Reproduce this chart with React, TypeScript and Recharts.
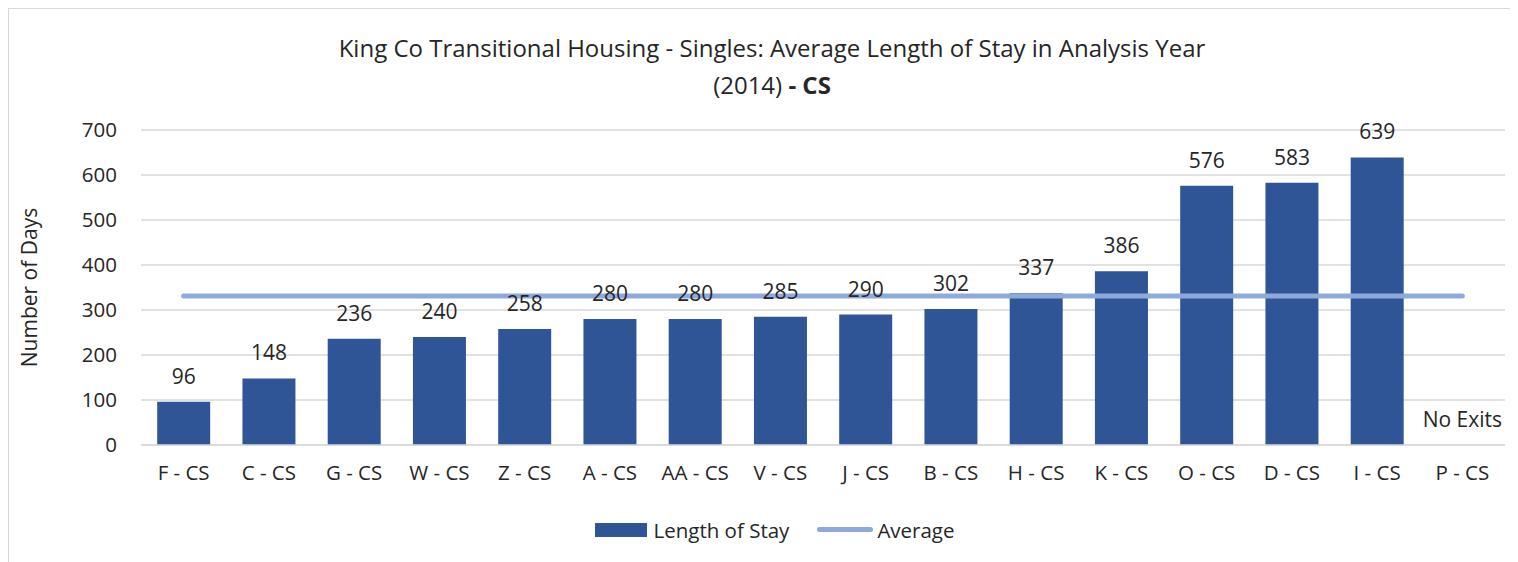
import React from 'react';
import { ComposedChart, Bar, Line, XAxis, YAxis, CartesianGrid, LabelList, Legend, Label, ReferenceDot } from 'recharts';

const categories = ['F - CS', 'C - CS', 'G - CS', 'W - CS', 'Z - CS', 'A - CS', 'AA - CS', 'V - CS', 'J - CS', 'B - CS', 'H - CS', 'K - CS', 'O - CS', 'D - CS', 'I - CS', 'P - CS'];
const lengthOfStay = [96, 148, 236, 240, 258, 280, 280, 285, 290, 302, 337, 386, 576, 583, 639, null];
const average = [331, 331, 331, 331, 331, 331, 331, 331, 331, 331, 331, 331, 331, 331, 331, 331];
const yTicks = [0, 100, 200, 300, 400, 500, 600, 700];
const noExitCategory = 'P - CS';
const noExitText = 'No Exits';

const data = categories.map((c, i) => ({ name: c, los: lengthOfStay[i], avg: average[i] }));

const FONT = '"Open Sans", "Noto Sans", sans-serif';
const TEXT = '#262626';

const renderLabel = (props: any) => {
  const { x, y, width, value } = props;
  if (value === null || value === undefined) return null;
  return (
    <text x={x + width / 2} y={y - 18} textAnchor="middle" fill={TEXT} fontSize={21} fontFamily={FONT}>
      {String(value)}
    </text>
  );
};

const renderNoExit = (props: any) => {
  const { viewBox } = props;
  const cx = viewBox.x + (viewBox.width || 0) / 2;
  const cy = viewBox.y + (viewBox.height || 0) / 2;
  return (
    <text x={cx} y={cy - 18} textAnchor="middle" fill={TEXT} fontSize={21} fontFamily={FONT}>
      {noExitText}
    </text>
  );
};

const legendContent = () => (
  <div style={{ display: 'flex', justifyContent: 'center', alignItems: 'center', fontFamily: FONT, fontSize: 20.5, color: TEXT, lineHeight: '28px', marginLeft: 38 }}>
    <span style={{ display: 'inline-block', width: 52, height: 14, background: '#2F5597', marginRight: 6 }} />
    <span style={{ marginRight: 28 }}>Length of Stay</span>
    <span style={{ display: 'inline-block', width: 56, height: 5, borderRadius: 3, background: '#8EA9DB', marginRight: 4 }} />
    <span>Average</span>
  </div>
);

export default function App() {
  return (
    <div style={{ position: 'relative', width: 1510, height: 554, borderLeft: '1.5px solid #d9d9d9', borderTop: '1.5px solid #d9d9d9', boxSizing: 'border-box', background: '#fff' }}>
      <div style={{ position: 'absolute', left: 0, top: 20, width: 1526, textAlign: 'center', fontFamily: FONT, fontSize: 24, color: TEXT, lineHeight: '37px' }}>
        <div>King Co Transitional Housing - Singles: Average Length of Stay in Analysis Year</div>
        <div>(2014) <b>- CS</b></div>
      </div>
      <div style={{ position: 'absolute', left: -1.5, top: -1.5 }}>
        <ComposedChart width={1510} height={554} data={data} margin={{ top: 122, right: 13, bottom: 0, left: 0 }} barCategoryGap="19%">
          <CartesianGrid vertical={false} stroke="#d9d9d9" strokeWidth={1.5} />
          <XAxis dataKey="name" axisLine={{ stroke: '#d9d9d9', strokeWidth: 1.5 }} tickLine={false} tickSize={0} tickMargin={20}
            tick={{ fill: TEXT, fontSize: 20.5, fontFamily: FONT }} height={117} interval={0} />
          <YAxis domain={[0, 700]} ticks={yTicks} axisLine={false} tickLine={false} tickSize={0} tickMargin={24} width={133}
            tick={{ fill: TEXT, fontSize: 20.5, fontFamily: FONT }}>
            <Label value="Number of Days" angle={-90} position="insideLeft" offset={22} style={{ fill: TEXT, fontSize: 21, fontFamily: FONT, textAnchor: 'middle' }} />
          </YAxis>
          <Bar dataKey="los" name="Length of Stay" fill="#2F5597" isAnimationActive={false}>
            <LabelList dataKey="los" content={renderLabel} />
          </Bar>
          <Line dataKey="avg" name="Average" stroke="#8EA9DB" strokeWidth={5} dot={false} strokeLinecap="round" isAnimationActive={false} />
          <ReferenceDot x={noExitCategory} y={0} r={0} fill="none" stroke="none" ifOverflow="visible">
            <Label content={renderNoExit} />
          </ReferenceDot>
          <Legend verticalAlign="bottom" content={legendContent} wrapperStyle={{ top: 508, bottom: 'auto', height: 0, overflow: 'visible' }} />
        </ComposedChart>
      </div>
    </div>
  );
}
